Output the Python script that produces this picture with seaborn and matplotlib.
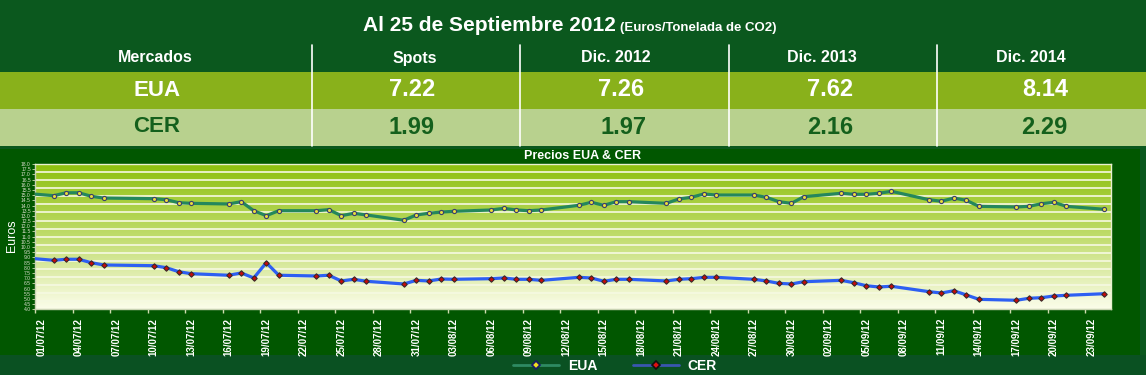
import numpy as np
import pandas as pd
import matplotlib
matplotlib.use("Agg")
import matplotlib.pyplot as plt
from matplotlib import font_manager as fm
from matplotlib.patches import Rectangle
from matplotlib.lines import Line2D
from matplotlib.colors import LinearSegmentedColormap
import seaborn as sns

# ---------------- data ----------------
table_columns = ["Mercados", "Spots", "Dic. 2012", "Dic. 2013", "Dic. 2014"]
table_eua = ["7.22", "7.26", "7.62", "8.14"]
table_cer = ["1.99", "1.97", "2.16", "2.29"]

dates = [
    "2012-06-29",
    "2012-07-02", "2012-07-03", "2012-07-04", "2012-07-05", "2012-07-06",
    "2012-07-10", "2012-07-11", "2012-07-12", "2012-07-13",
    "2012-07-16", "2012-07-17", "2012-07-18", "2012-07-19", "2012-07-20",
    "2012-07-23", "2012-07-24", "2012-07-25", "2012-07-26", "2012-07-27",
    "2012-07-30", "2012-07-31", "2012-08-01", "2012-08-02", "2012-08-03",
    "2012-08-06", "2012-08-07", "2012-08-08", "2012-08-09", "2012-08-10",
    "2012-08-13", "2012-08-14", "2012-08-15", "2012-08-16", "2012-08-17",
    "2012-08-20", "2012-08-21", "2012-08-22", "2012-08-23", "2012-08-24",
    "2012-08-27", "2012-08-28", "2012-08-29", "2012-08-30", "2012-08-31",
    "2012-09-03", "2012-09-04", "2012-09-05", "2012-09-06", "2012-09-07",
    "2012-09-10", "2012-09-11", "2012-09-12", "2012-09-13", "2012-09-14",
    "2012-09-17", "2012-09-18", "2012-09-19", "2012-09-20", "2012-09-21",
    "2012-09-24",
]
eua = [
    15.24,
    14.95, 15.23, 15.23, 14.89, 14.72,
    14.66, 14.56, 14.27, 14.21,
    14.15, 14.37, 13.50, 13.02, 13.50,
    13.50, 13.60, 13.02, 13.25, 13.09,
    12.58, 13.09, 13.25, 13.37, 13.44,
    13.57, 13.73, 13.57, 13.50, 13.57,
    14.02, 14.31, 14.02, 14.37, 14.37,
    14.21, 14.63, 14.79, 15.11, 15.01,
    15.01, 14.79, 14.37, 14.21, 14.85,
    15.18, 15.08, 15.08, 15.18, 15.37,
    14.56, 14.41, 14.72, 14.50, 13.92,
    13.86, 13.92, 14.17, 14.31, 13.92,
    13.64,
]
cer = [
    9.03,
    8.72, 8.82, 8.82, 8.49, 8.27,
    8.20, 8.01, 7.62, 7.43,
    7.28, 7.50, 7.02, 8.49, 7.28,
    7.21, 7.28, 6.73, 6.89, 6.70,
    6.44, 6.79, 6.73, 6.92, 6.89,
    6.95, 7.02, 6.89, 6.89, 6.79,
    7.08, 7.02, 6.70, 6.89, 6.89,
    6.73, 6.89, 6.95, 7.08, 7.08,
    6.89, 6.73, 6.50, 6.44, 6.66,
    6.79, 6.56, 6.27, 6.15, 6.22,
    5.70, 5.57, 5.79, 5.38, 4.96,
    4.87, 5.06, 5.12, 5.28, 5.35,
    5.50,
]
x_tick_labels = [
    "01/07/12", "04/07/12", "07/07/12", "10/07/12", "13/07/12", "16/07/12",
    "19/07/12", "22/07/12", "25/07/12", "28/07/12", "31/07/12", "03/08/12",
    "06/08/12", "09/08/12", "12/08/12", "15/08/12", "18/08/12", "21/08/12",
    "24/08/12", "27/08/12", "30/08/12", "02/09/12", "05/09/12", "08/09/12",
    "11/09/12", "14/09/12", "17/09/12", "20/09/12", "23/09/12",
]
y_ticks = np.arange(4.0, 18.01, 0.5)

# ---------------- fonts ----------------
names = {f.name for f in fm.fontManager.ttflist}
NARROW = "Liberation Sans Narrow" if "Liberation Sans Narrow" in names else "Liberation Sans"
REG = "Liberation Sans"

sns.set_theme(style="white")
plt.rcParams["font.family"] = [REG, "DejaVu Sans"]

W, H = 1146, 375
fig = plt.figure(figsize=(W / 100, H / 100), dpi=100)
fig.patch.set_facecolor("#0b581e")


def rect(x0, y0, x1, y1, color, z=0):
    fig.add_artist(Rectangle((x0 / W, 1 - y1 / H), (x1 - x0) / W, (y1 - y0) / H,
                             transform=fig.transFigure, facecolor=color,
                             edgecolor="none", zorder=z))


def ftext(x, y, s, **kw):
    fig.text(x / W, 1 - y / H, s, **kw)


# bands
rect(0, 72, W, 109, "#89b11b")
rect(0, 109, W, 146, "#b8d18e")
rect(0, 149, 1140, 355, "#015700")
rect(0, 355, W, H, "#0a5122")

# column separators
for xs in [312, 520, 729, 937]:
    fig.add_artist(Line2D([xs / W, xs / W], [1 - 45 / H, 1 - 146 / H],
                          transform=fig.transFigure, color="white", lw=1.2))

# title
ftext(616, 31, "Al 25 de Septiembre 2012", ha="right", va="baseline",
      color="white", fontsize=15, fontweight="bold", family=[NARROW, "DejaVu Sans"])
ftext(620, 31, "(Euros/Tonelada de CO2)", ha="left", va="baseline",
      color="white", fontsize=9.5, fontweight="bold", family=[NARROW, "DejaVu Sans"])

col_x = [155, 415, 616, 822, 1031]
for cx, name in zip(col_x, table_columns):
    ftext(cx, 58, name, ha="center", va="center", color="white",
          fontsize=11.5, fontweight="bold", family=[NARROW, "DejaVu Sans"])

ftext(157, 90, "EUA", ha="center", va="center", color="white",
      fontsize=16, fontweight="bold", family=[REG, "DejaVu Sans"])
ftext(157, 127, "CER", ha="center", va="center", color="#14601c",
      fontsize=16, fontweight="bold", family=[REG, "DejaVu Sans"])
val_eua_x = [412, 621, 830, 1045]
val_cer_x = [412, 624, 830, 1044]
for cx, v in zip(val_eua_x, table_eua):
    ftext(cx, 90, v, ha="center", va="center", color="white",
          fontsize=17, fontweight="bold", family=[REG, "DejaVu Sans"])
for cx, v in zip(val_cer_x, table_cer):
    ftext(cx, 127, v, ha="center", va="center", color="#14601c",
          fontsize=17, fontweight="bold", family=[REG, "DejaVu Sans"])

# ---------------- chart ----------------
ax = fig.add_axes([35 / W, 1 - 309.3 / H, (1111 - 35) / W, (309.3 - 164) / H])
ax.set_facecolor("none")

cmap = LinearSegmentedColormap.from_list(
    "bg", [(0.0, "#fbfdea"), (0.12, "#eef5cc"), (0.5, "#c0dc6c"), (1.0, "#8cbf0c")])
grad = np.linspace(0, 1, 256).reshape(-1, 1)
ax.imshow(grad, extent=[0, 1, 0, 1], transform=ax.transAxes, origin="lower",
          aspect="auto", cmap=cmap, zorder=0)

for gy in np.linspace(4, 18, 19):
    ax.axhline(gy, color="#f6f9e2", lw=1.2, zorder=1)

xd = pd.to_datetime(dates) + pd.Timedelta(hours=12)
df = pd.DataFrame({"fecha": xd, "EUA": eua, "CER": cer})

sns.lineplot(data=df, x="fecha", y="EUA", ax=ax, color="#24875c", lw=2.3,
             marker="o", ms=3.0, mfc="#e8dc3a", mec="#3b3f6e", mew=0.8, zorder=3)
sns.lineplot(data=df, x="fecha", y="CER", ax=ax, color="#2d5ff2", lw=2.3,
             marker="D", ms=2.8, mfc="#c80a0a", mec="#3a2a2a", mew=0.8, zorder=3)

start = pd.Timestamp("2012-07-01")
ax.set_xlim(start, start + pd.Timedelta(days=86.07))
ax.set_ylim(4, 18)

tick_pos = pd.to_datetime(x_tick_labels, format="%d/%m/%y")
ax.set_xticks(tick_pos)
ax.set_xticklabels([])
ax.set_xticks(tick_pos + pd.Timedelta(hours=12), minor=True)
ax.set_xticklabels(x_tick_labels, minor=True, rotation=90, color="white",
                   fontsize=7, fontweight="bold", family=[NARROW, "DejaVu Sans"])
ax.tick_params(axis="x", which="major", length=3, width=1, color="#cfdcaf",
               direction="out", bottom=True)
ax.tick_params(axis="x", which="minor", length=0, pad=6, bottom=True)

ax.set_yticks(y_ticks)
ax.set_yticklabels([f"{v:.1f}" for v in y_ticks], fontsize=3.6, color="#d8dccb")
ax.tick_params(axis="y", length=2, width=0.6, color="#cfdcaf", pad=1, left=True)

ax.set_xlabel("")
ax.set_ylabel("")
for side in ["left", "bottom"]:
    ax.spines[side].set_color("#c9d3b3")
    ax.spines[side].set_linewidth(1)
for side in ["top", "right"]:
    ax.spines[side].set_color("#e8f0cf")
    ax.spines[side].set_linewidth(1)

ftext(583, 156, "Precios EUA & CER", ha="center", va="center", color="white",
      fontsize=9, fontweight="bold", family=[NARROW, "DejaVu Sans"])
ftext(12, 236, "Euros", ha="center", va="center", rotation=90, color="white",
      fontsize=9, family=[REG, "DejaVu Sans"])

handles = [
    Line2D([0], [0], color="#2e8a62", lw=2, marker="D", ms=4.5, mfc="#f0e020",
           mec="#1a1a6a", mew=1.2, label="EUA"),
    Line2D([0], [0], color="#3a56b0", lw=2, marker="D", ms=4.5, mfc="#e01010",
           mec="#111111", mew=1.2, label="CER"),
]
leg = fig.legend(handles=handles, loc="center", ncol=2, frameon=False,
                 bbox_to_anchor=(615 / W, 1 - 366 / H), handlelength=3.3,
                 columnspacing=2.6, handletextpad=0.6,
                 prop={"family": [NARROW, "DejaVu Sans"], "weight": "bold", "size": 10})
for t in leg.get_texts():
    t.set_color("white")

fig.savefig("out.png", dpi=100, facecolor=fig.get_facecolor())
